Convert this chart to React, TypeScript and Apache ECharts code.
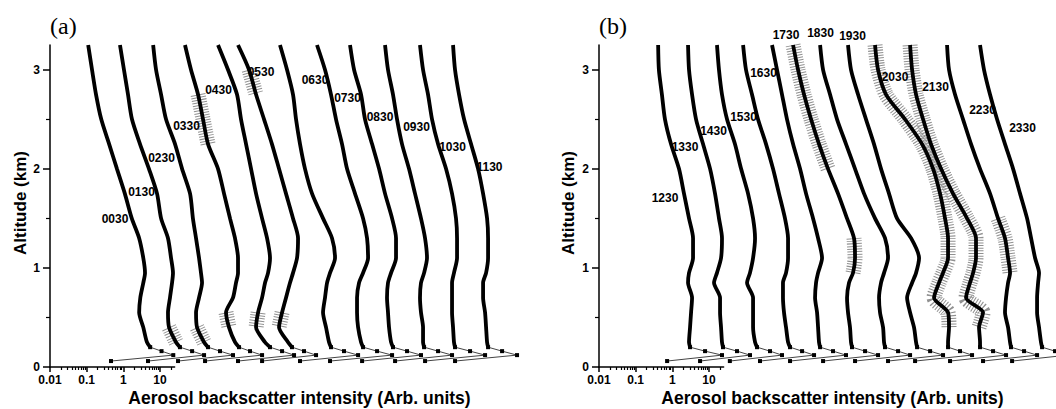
import React, { useEffect, useRef } from "react";
import * as echarts from "echarts";

// Altitude levels (km) shared by every backscatter profile, from the top down.
const ALTITUDE_KM = [3.25, 3.0, 2.75, 2.5, 2.25, 2.0, 1.75, 1.5, 1.3, 1.1, 0.95, 0.85, 0.7, 0.55, 0.4, 0.25, 0.2, 0.16, 0.12, 0.06];
// Above this altitude a profile is a heavy line; below it the individual samples are marked.
const SURFACE_LAYER_TOP_KM = 0.2;

// Panel (a): 0030-1130 profiles (each one shifted right of the previous to stack them).
const P0030 = [0.11, 0.14, 0.18, 0.25, 0.41, 0.67, 1.1, 1.7, 2.7, 3.5, 3.9, 3.5, 2.9, 2.7, 3.5, 4.4, 5.4, 11, 23, 0.46];
const P0130 = [0.81, 1.04, 1.34, 1.72, 2.85, 5.0, 8.3, 10.7, 16.5, 20, 22.6, 21.3, 18.7, 16.5, 17.6, 27.3, 35, 75, 159, 4.7];
const P0230 = [6.5, 7.8, 10.7, 14.6, 25.7, 40, 66, 79, 96, 116, 131, 140, 116, 96, 102, 159, 204, 433, 980, 31];
const P0330 = [48, 70, 109, 149, 204, 382, 557, 811, 1110, 1340, 1340, 1180, 980, 631, 762, 1110, 1430, 2850, 6070, 169];
const P0430 = [382, 716, 1260, 1620, 2220, 3040, 4160, 6070, 8300, 1.0e4, 8840, 7320, 6070, 4720, 4160, 7320, 1.0e4, 2.13e4, 4.52e4, 1340];
const P0530 = [1340, 2680, 4160, 6880, 1.13e4, 1.76e4, 2.73e4, 4.24e4, 5.81e4, 5.45e4, 4.24e4, 3.51e4, 2.73e4, 2.13e4, 1.76e4, 3.1e4, 3.98e4, 8.46e4, 1.8e5, 6070];
const P0630 = [1.87e4, 2.91e4, 4.24e4, 5.12e4, 6.58e4, 9.0e4, 1.4e5, 2.79e5, 4.91e5, 5.93e5, 4.33e5, 3.59e5, 3.16e5, 2.79e5, 3.37e5, 4.07e5, 4.61e5, 1.04e6, 2.52e6, 6.58e4];
const P0730 = [1.91e5, 3.16e5, 4.61e5, 6.31e5, 9.2e5, 1.26e6, 2.08e6, 3.45e6, 4.43e6, 4.72e6, 3.45e6, 2.68e6, 2.36e6, 2.36e6, 2.52e6, 3.04e6, 3.45e6, 8.3e6, 2.13e7, 4.33e5];
const P0830 = [1.52e6, 1.96e6, 3.04e6, 3.9e6, 6.07e6, 9.42e6, 1.37e7, 2.13e7, 2.73e7, 2.73e7, 2.0e7, 1.65e7, 1.55e7, 1.65e7, 1.76e7, 2.0e7, 2.26e7, 5.45e7, 1.31e8, 3.24e6];
const P0930 = [1.37e7, 1.65e7, 2.26e7, 2.91e7, 3.98e7, 6.18e7, 9.0e7, 1.31e8, 1.69e8, 1.91e8, 1.59e8, 1.31e8, 1.23e8, 1.31e8, 1.49e8, 1.49e8, 1.59e8, 3.82e8, 9.2e8, 2.57e7];
const P1030 = [1.23e8, 1.49e8, 2.04e8, 2.62e8, 3.82e8, 6.31e8, 9.2e8, 1.18e9, 1.26e9, 1.26e9, 1.04e9, 9.2e8, 9.2e8, 9.2e8, 9.8e8, 1.04e9, 1.11e9, 2.85e9, 7.32e9, 1.69e8];
const P1130 = [9.8e8, 1.11e9, 1.43e9, 1.96e9, 3.04e9, 4.72e9, 6.46e9, 8.3e9, 8.84e9, 8.84e9, 7.8e9, 6.46e9, 6.46e9, 7.32e9, 7.8e9, 8.3e9, 8.84e9, 2.13e10, 5.45e10, 1.11e9];

// Panel (b): 1230-2330 profiles.
const P1230 = [0.41, 0.43, 0.52, 0.63, 0.92, 1.52, 2.08, 2.85, 3.67, 3.67, 2.85, 2.68, 3.45, 3.24, 3.04, 2.85, 3.04, 7.8, 22.6, 0.72];
const P1330 = [2.68, 2.85, 3.45, 4.43, 6.88, 10.7, 14.6, 18.7, 22.6, 21.3, 16.5, 13.7, 20, 20, 21.3, 22.6, 24.1, 58, 131, 5.7];
const P1430 = [16.5, 18.7, 22.6, 31, 51, 75, 116, 159, 180, 159, 131, 109, 159, 159, 159, 180, 204, 461, 980, 37];
const P1530 = [85, 102, 149, 217, 359, 557, 811, 1180, 1430, 1430, 1260, 1040, 1040, 1110, 1260, 1430, 1620, 3450, 7320, 246];
const P1630 = [523, 716, 980, 1340, 1960, 3040, 4430, 6880, 9420, 1.21e4, 9420, 8300, 7800, 8840, 9420, 1.0e4, 1.07e4, 2.41e4, 5.45e4, 1620];
const P1730 = [1960, 2680, 3900, 6070, 1.0e4, 1.76e4, 3.3e4, 5.81e4, 9.0e4, 9.6e4, 8.46e4, 6.58e4, 5.81e4, 6.18e4, 7.0e4, 7.46e4, 7.94e4, 1.8e5, 4.07e5, 1.29e4];
const P1830 = [1.07e4, 1.29e4, 2.0e4, 3.1e4, 5.45e4, 9.6e4, 1.69e5, 3.37e5, 6.31e5, 7.62e5, 5.93e5, 4.91e5, 4.33e5, 4.61e5, 5.57e5, 5.93e5, 6.31e5, 1.43e6, 3.04e6, 9.6e4];
const P1930 = [6.18e4, 7.46e4, 1.16e5, 1.91e5, 3.16e5, 4.91e5, 8.11e5, 1.34e6, 3.24e6, 5.35e6, 4.43e6, 3.45e6, 2.52e6, 3.04e6, 3.9e6, 4.43e6, 4.72e6, 1.07e7, 2.41e7, 7.62e5];
const P2030 = [3.37e5, 4.07e5, 6.72e5, 2.22e6, 6.46e6, 1.29e7, 2.0e7, 2.73e7, 3.3e7, 3.3e7, 2.41e7, 1.87e7, 1.37e7, 3.3e7, 3.51e7, 3.3e7, 3.3e7, 7.0e7, 1.49e8, 4.16e6];
const P2130 = [3.04e6, 3.45e6, 4.43e6, 6.88e6, 1.13e7, 2.13e7, 4.52e7, 1.09e8, 1.91e8, 1.91e8, 1.59e8, 1.31e8, 1.02e8, 2.97e8, 2.31e8, 2.46e8, 2.46e8, 5.57e8, 1.26e9, 3.74e7];
const P2230 = [3.1e7, 3.51e7, 5.12e7, 8.46e7, 1.4e8, 2.46e8, 4.61e8, 7.62e8, 1.18e9, 1.43e9, 1.62e9, 1.43e9, 1.26e9, 1.18e9, 1.43e9, 1.62e9, 1.72e9, 3.9e9, 8.84e9, 2.97e8];
const P2330 = [2.46e8, 3.16e8, 4.61e8, 7.16e8, 1.18e9, 1.96e9, 3.04e9, 4.72e9, 6.07e9, 7.8e9, 1.0e10, 9.42e9, 8.84e9, 8.84e9, 1.0e10, 1.13e10, 1.21e10, 2.73e10, 6.18e10, 1.84e9];

const PANEL_A_TIMES = ["0030", "0130", "0230", "0330", "0430", "0530", "0630", "0730", "0830", "0930", "1030", "1130"];
const PANEL_A_PROFILES = [P0030, P0130, P0230, P0330, P0430, P0530, P0630, P0730, P0830, P0930, P1030, P1130];
const PANEL_B_TIMES = ["1230", "1330", "1430", "1530", "1630", "1730", "1830", "1930", "2030", "2130", "2230", "2330"];
const PANEL_B_PROFILES = [P1230, P1330, P1430, P1530, P1630, P1730, P1830, P1930, P2030, P2130, P2230, P2330];

// Altitude stretches (km, top then bottom) where the error bars are wide enough to show.
const ERROR_SPANS: [string, number, number][] = [
  ["0330", 2.9, 2.25],
  ["0530", 3.1, 2.75],
  ["0130", 0.4, 0.25],
  ["0230", 0.4, 0.25],
  ["0330", 0.55, 0.4],
  ["0430", 0.55, 0.4],
  ["0530", 0.55, 0.4],
  ["1730", 3.25, 2.0],
  ["1730", 1.3, 0.95],
  ["2030", 3.25, 0.4],
  ["2130", 3.25, 0.4],
  ["2230", 1.5, 0.95],
];

// Axis ticks.
const X_MAJOR_TICKS = [0.01, 0.1, 1, 10];
const X_MAJOR_LABELS = ["0.01", "0.1", "1", "10"];
const X_MINOR_TICKS = [0.02, 0.03, 0.04, 0.05, 0.06, 0.07, 0.08, 0.09, 0.2, 0.3, 0.4, 0.5, 0.6, 0.7, 0.8, 0.9, 2, 3, 4, 5, 6, 7, 8, 9, 20];
const ALT_MAJOR_TICKS = [0, 1, 2, 3];
const ALT_MINOR_TICKS = [0.5, 1.5, 2.5];

// Layout.
const SANS = '"Liberation Sans", Arial, Helvetica, sans-serif';
const SERIF = '"Liberation Serif", "Times New Roman", serif';
const DECADE_PX = 36.67;
const PLOT_TOP = 45;
const PLOT_HEIGHT = 322;
const ALT_MAX = 3.25;
const X_MIN = 0.01;
const X_MAX = 1e12;
const X_AXIS_SHOWN_MAX = 25;

const LABEL_XY_A = [[115, 219], [141.5, 192], [161.5, 158], [186.5, 126], [218.5, 90], [261, 72], [315, 80], [347.5, 98], [380, 117], [416.5, 127], [452.5, 147], [489.5, 167]];
const LABEL_XY_B = [[665, 198], [685, 147], [713.5, 131], [743.5, 117], [763.5, 73], [786, 35], [820.5, 33], [852.5, 36], [895, 77], [935.5, 87], [982.5, 110], [1022.5, 128]];

const PANELS = [
  { left: 50, title: "(a)", times: PANEL_A_TIMES, profiles: PANEL_A_PROFILES, labelXY: LABEL_XY_A, xNameX: 299.5, yNameX: 20 },
  { left: 599, title: "(b)", times: PANEL_B_TIMES, profiles: PANEL_B_PROFILES, labelXY: LABEL_XY_B, xNameX: 832.5, yNameX: 568 },
];

const tickText = { color: "#000", fontWeight: "bold" as const, fontSize: 12, fontFamily: SANS };

function xTickLabel(v: number): string {
  const i = X_MAJOR_TICKS.findIndex((t) => Math.abs(Math.log10(t) - v) < 1e-6);
  return i >= 0 ? X_MAJOR_LABELS[i] : "";
}

function buildOption() {
  const grid: any[] = [];
  const xAxis: any[] = [];
  const yAxis: any[] = [];
  const series: any[] = [];
  const graphic: any[] = [];

  const fullWidth = Math.log10(X_MAX / X_MIN) * DECADE_PX;
  const shownWidth = Math.log10(X_AXIS_SHOWN_MAX / X_MIN) * DECADE_PX;

  PANELS.forEach((p, k) => {
    const gMain = 2 * k;
    const gAxis = 2 * k + 1;
    // The stacked profiles run past the page edge on the right, so the grid must not be squeezed in.
    grid.push({ left: p.left, top: PLOT_TOP, width: fullWidth, height: PLOT_HEIGHT, outerBoundsMode: "none", containLabel: false });
    grid.push({ left: p.left, top: PLOT_TOP, width: shownWidth, height: PLOT_HEIGHT, outerBoundsMode: "none", containLabel: false });

    const xMain = xAxis.length;
    // Log intensity axis used by every profile.
    xAxis.push({ gridIndex: gMain, type: "log", logBase: 10, min: X_MIN, max: X_MAX, show: false });
    // Visible stretch of the intensity axis, 0.01 to 25, in decades.
    xAxis.push({
      gridIndex: gAxis,
      type: "value",
      position: "bottom",
      min: Math.log10(X_MIN),
      max: Math.log10(X_AXIS_SHOWN_MAX),
      axisLine: { show: true, onZero: false, lineStyle: { color: "#000", width: 1.5 } },
      axisTick: { show: true, customValues: X_MAJOR_TICKS.map(Math.log10), length: 5, lineStyle: { color: "#000", width: 1.5 } },
      axisLabel: { show: true, customValues: X_MAJOR_TICKS.map(Math.log10), formatter: xTickLabel, margin: 7, ...tickText },
      splitLine: { show: false },
    });
    xAxis.push({
      gridIndex: gAxis,
      type: "value",
      position: "bottom",
      min: Math.log10(X_MIN),
      max: Math.log10(X_AXIS_SHOWN_MAX),
      axisLine: { show: false, onZero: false },
      axisTick: { show: true, customValues: X_MINOR_TICKS.map(Math.log10), length: 3, lineStyle: { color: "#000", width: 1.2 } },
      axisLabel: { show: false },
      splitLine: { show: false },
    });

    const yMain = yAxis.length;
    yAxis.push({
      gridIndex: gMain,
      type: "value",
      position: "left",
      min: 0,
      max: ALT_MAX,
      axisLine: { show: true, onZero: false, lineStyle: { color: "#000", width: 1.5 } },
      axisTick: { show: true, customValues: ALT_MAJOR_TICKS, length: 7, lineStyle: { color: "#000", width: 1.5 } },
      axisLabel: { show: true, customValues: ALT_MAJOR_TICKS, margin: 10, ...tickText },
      splitLine: { show: false },
    });
    yAxis.push({
      gridIndex: gMain,
      type: "value",
      position: "left",
      min: 0,
      max: ALT_MAX,
      axisLine: { show: false, onZero: false },
      axisTick: { show: true, customValues: ALT_MINOR_TICKS, length: 4, lineStyle: { color: "#000", width: 1.2 } },
      axisLabel: { show: false },
      splitLine: { show: false },
    });
    yAxis.push({ gridIndex: gAxis, type: "value", min: 0, max: ALT_MAX, show: false });

    p.profiles.forEach((vals, i) => {
      const pts = vals.map((v, j) => [v, ALTITUDE_KM[j]]);
      series.push({
        type: "line",
        name: p.times[i],
        xAxisIndex: xMain,
        yAxisIndex: yMain,
        data: pts.filter((d) => d[1] >= SURFACE_LAYER_TOP_KM),
        showSymbol: false,
        smooth: 0.25,
        lineStyle: { color: "#000", width: 3.8 },
        z: 4,
        silent: true,
      });
      series.push({
        type: "line",
        name: p.times[i] + " near surface",
        xAxisIndex: xMain,
        yAxisIndex: yMain,
        data: pts.filter((d) => d[1] <= SURFACE_LAYER_TOP_KM),
        symbol: "rect",
        symbolSize: 4,
        itemStyle: { color: "#000" },
        lineStyle: { color: "#444", width: 1 },
        z: 3,
        silent: true,
      });
    });

    ERROR_SPANS.forEach(([time, hi, lo]) => {
      const i = p.times.indexOf(time);
      if (i < 0) return;
      const pts = p.profiles[i]
        .map((v, j) => [v, ALTITUDE_KM[j]])
        .filter((d) => d[1] <= hi && d[1] >= lo);
      series.push({
        type: "line",
        name: time + " error",
        xAxisIndex: xMain,
        yAxisIndex: yMain,
        data: pts,
        showSymbol: false,
        smooth: 0.25,
        lineStyle: { color: "#909090", width: 15, type: [1, 1.6], cap: "butt" },
        z: 2,
        silent: true,
      });
    });

    // Time-of-day tags beside the profiles.
    p.times.forEach((t, i) => {
      const [x, y] = p.labelXY[i];
      graphic.push({
        type: "text",
        x,
        y,
        z: 10,
        style: { text: t, font: `bold 12px ${SANS}`, fill: "#000", align: "center", verticalAlign: "middle", textAlign: "center", textVerticalAlign: "middle" },
      });
    });

    graphic.push({
      type: "text",
      x: p.left,
      y: 26,
      style: { text: p.title, font: `24px ${SERIF}`, fill: "#000", align: "left", verticalAlign: "middle", textAlign: "left", textVerticalAlign: "middle" },
    });
    graphic.push({
      type: "text",
      x: p.xNameX,
      y: 398,
      style: { text: "Aerosol backscatter intensity (Arb. units)", font: `bold 17.5px ${SANS}`, fill: "#000", align: "center", verticalAlign: "middle", textAlign: "center", textVerticalAlign: "middle" },
    });
    graphic.push({
      type: "text",
      x: p.yNameX,
      y: 203,
      rotation: Math.PI / 2,
      style: { text: "Altitude (km)", font: `bold 17px ${SANS}`, fill: "#000", align: "center", verticalAlign: "middle", textAlign: "center", textVerticalAlign: "middle" },
    });
  });

  return { animation: false, backgroundColor: "#fff", grid, xAxis, yAxis, series, graphic };
}

export default function App() {
  const ref = useRef<HTMLDivElement>(null);
  useEffect(() => {
    if (!ref.current) return;
    const chart = echarts.init(ref.current, null, { renderer: "svg" });
    chart.setOption(buildOption());
    return () => chart.dispose();
  }, []);
  return <div ref={ref} style={{ position: "fixed", left: 0, top: 0, width: 1056, height: 409, background: "#fff" }} />;
}
